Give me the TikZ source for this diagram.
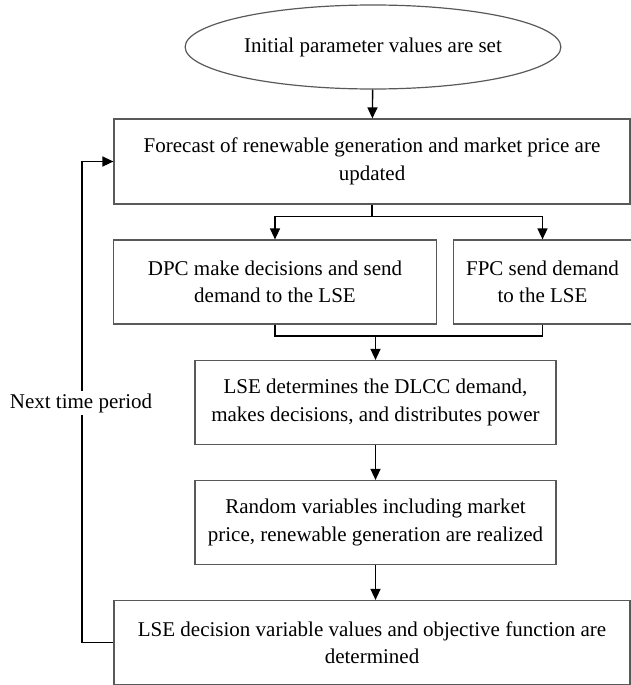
\documentclass[tikz,border=0pt]{standalone}
\usepackage{fontspec}
\setmainfont{Liberation Serif}
\usetikzlibrary{arrows.meta,shapes.geometric}

\tikzset{
  stepbox/.style={draw=black!65,line width=0.6pt,align=center,inner sep=2pt,
    font=\fontsize{10.5}{13.8}\selectfont},
  flow/.style={-{Triangle[length=5.5pt,width=5pt]},line width=0.7pt},
  link/.style={line width=0.7pt}
}

\begin{document}
\begin{tikzpicture}[x=0.5pt,y=-0.5pt]
\useasboundingbox (0,0) rectangle (631,685);
% ---- nodes ----
\node[stepbox,ellipse,minimum width=180pt,minimum height=42pt] (init) at (373,47)
  {Initial parameter values are set};
\node[stepbox,minimum width=258pt,minimum height=42.5pt] (fcst) at (372,161.5)
  {Forecast of renewable generation and market price are\\updated};
\node[stepbox,minimum width=161.5pt,minimum height=42pt] (dpc) at (275,282)
  {DPC make decisions and send\\demand to the LSE};
\node[stepbox,minimum width=89pt,minimum height=42pt] (fpc) at (542.5,282)
  {FPC send demand\\to the LSE};
\node[stepbox,minimum width=180.5pt,minimum height=42pt] (lse) at (375.5,402.5)
  {LSE determines the DLCC demand,\\makes decisions, and distributes power};
\node[stepbox,minimum width=180.5pt,minimum height=42pt] (rand) at (375.5,522.5)
  {Random variables including market\\price, renewable generation are realized};
\node[stepbox,minimum width=258pt,minimum height=42pt] (final) at (372,642.5)
  {LSE decision variable values and objective function are\\determined};
% ---- connectors ----
\draw[flow] (init) -- (fcst);
\coordinate (split) at ([yshift=-12*0.5pt]fcst.south);
\draw[link] (fcst.south) -- (split);
\draw[flow] (split) -| (dpc.north);
\draw[flow] (split) -| (fpc.north);
\coordinate (merge) at (lse.north |- 0,336);
\draw[link] (dpc.south) |- (merge);
\draw[link] (fpc.south) |- (merge);
\draw[flow] (merge) -- (lse.north);
\draw[flow] (lse) -- (rand);
\draw[flow] (rand.south) -- (rand.south |- final.north);
\coordinate (back) at (82,642.5);
\draw[flow] (final.west) -- (back) |- (fcst.west);
\node[fill=white,inner sep=1pt,font=\fontsize{10.5}{12}\selectfont] (next) at (81,403)
  {Next time period};
\end{tikzpicture}
\end{document}
